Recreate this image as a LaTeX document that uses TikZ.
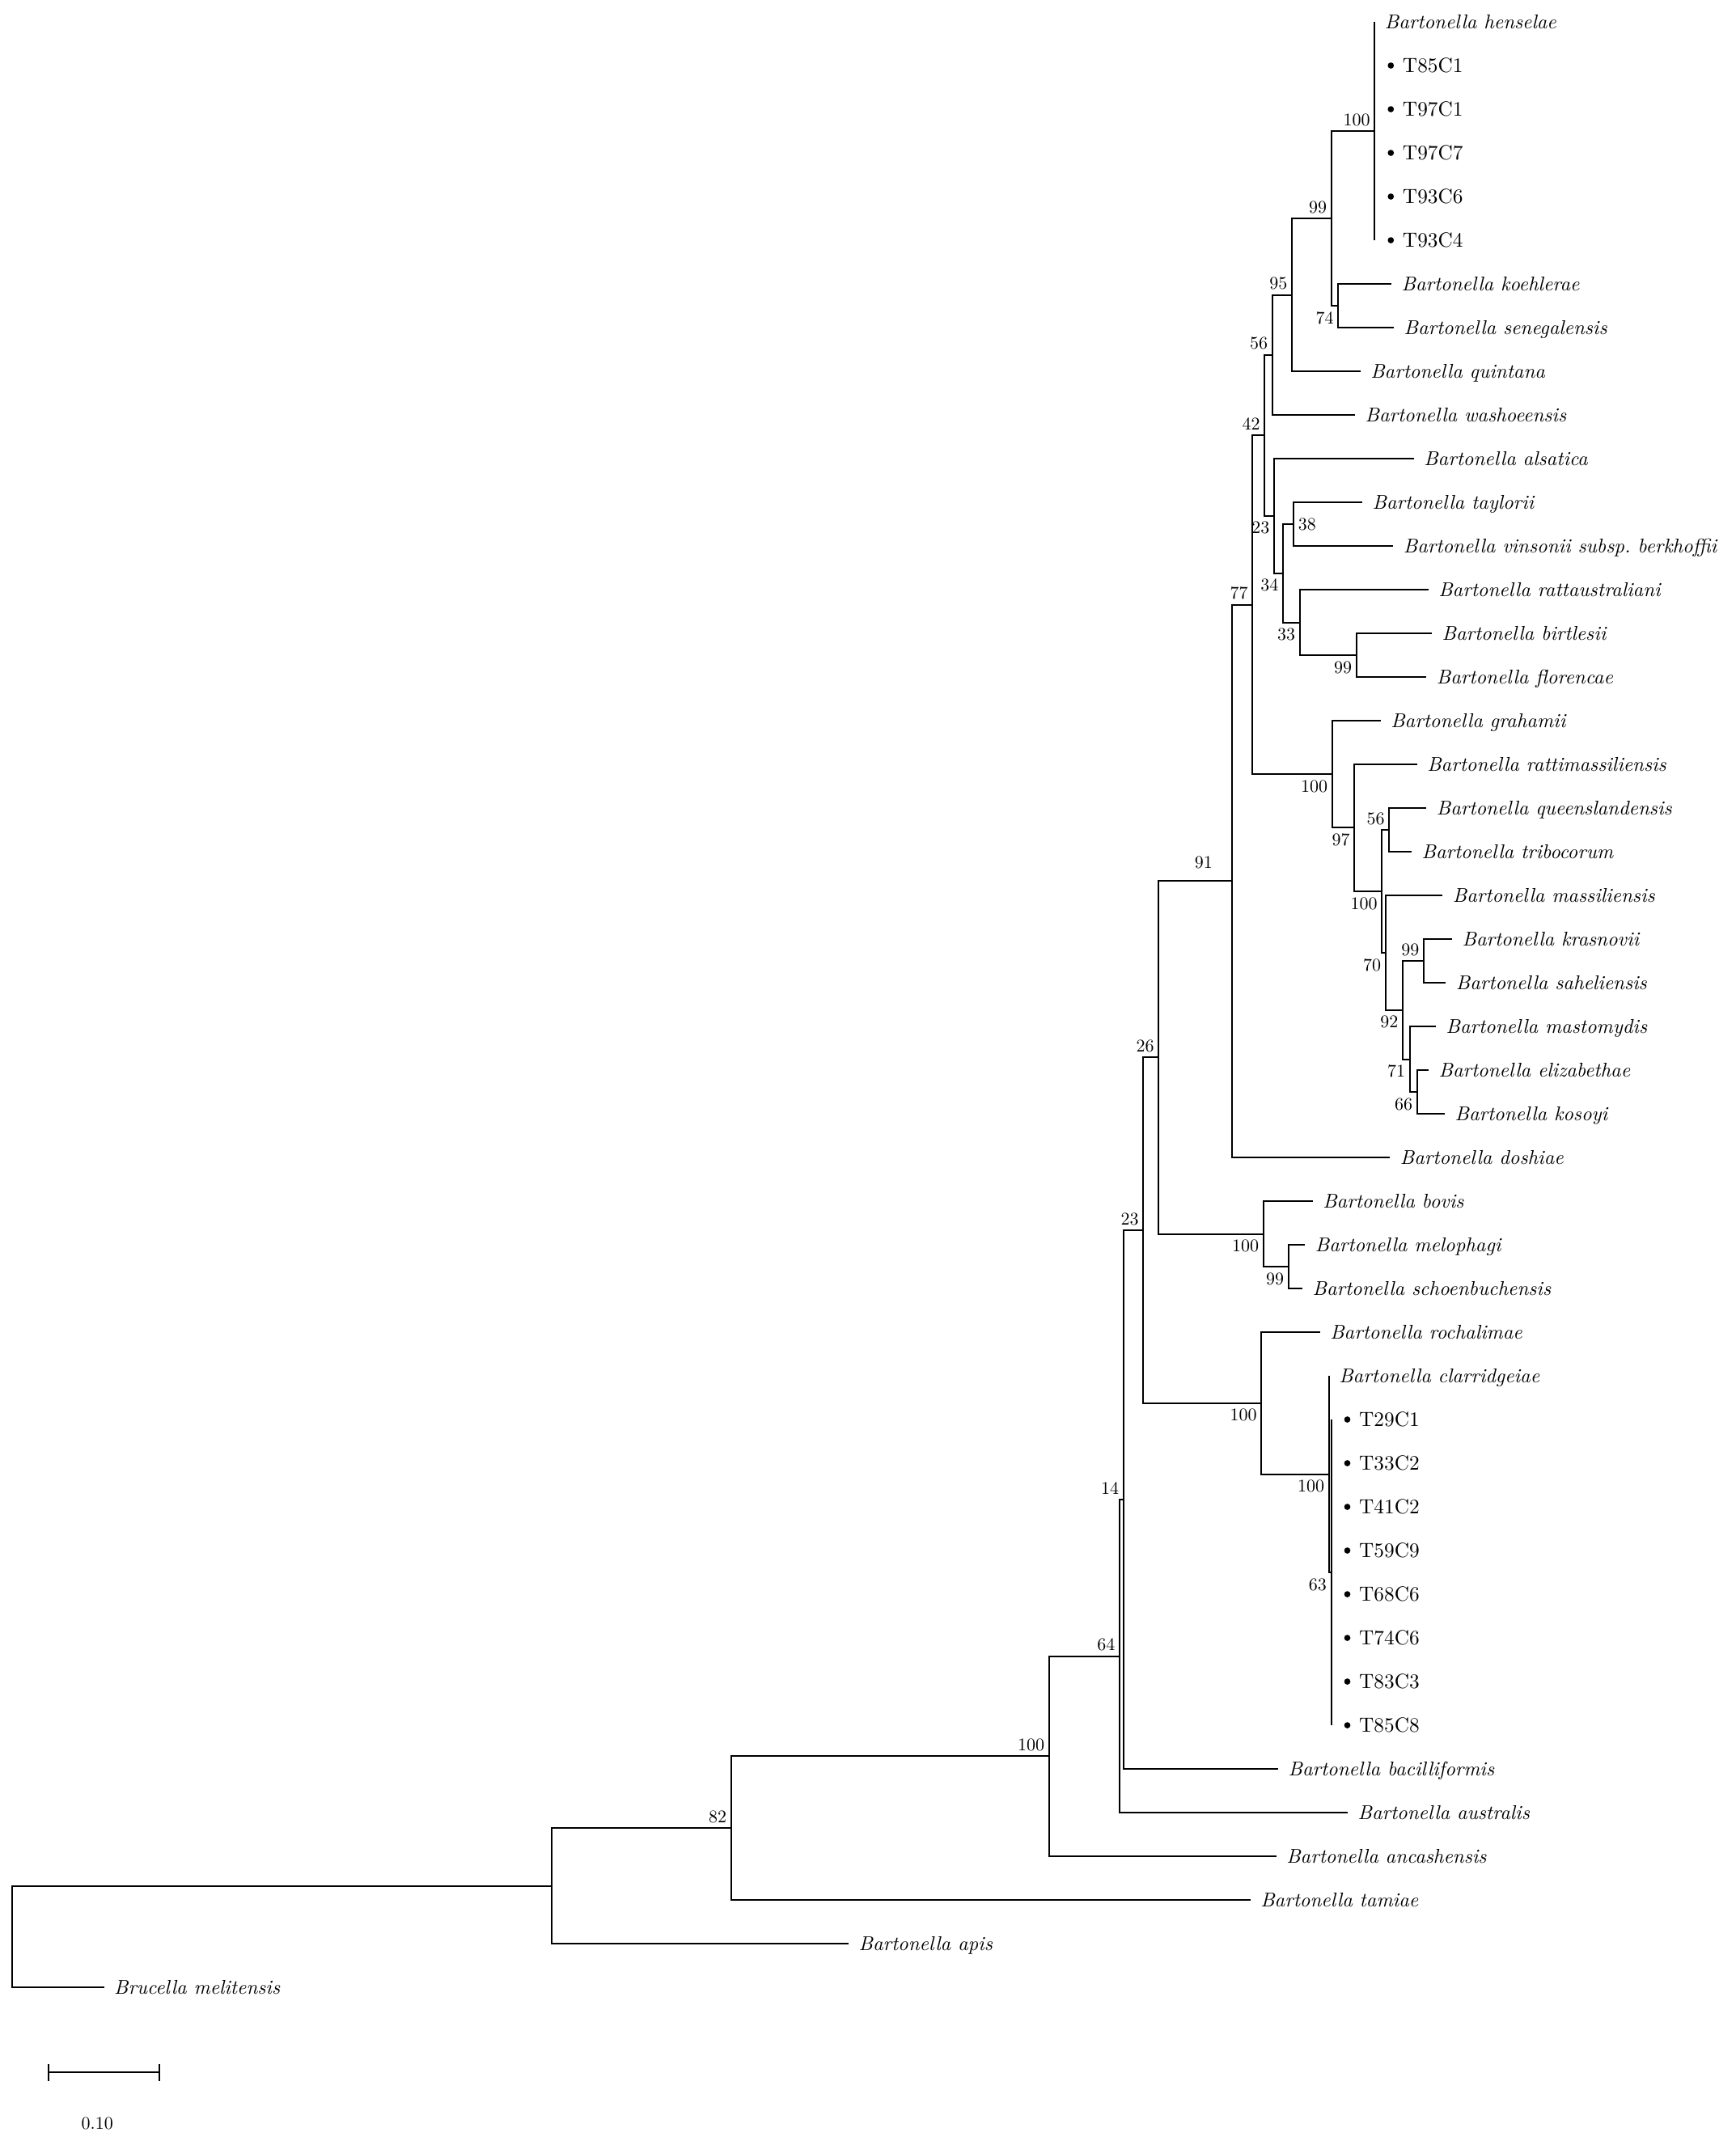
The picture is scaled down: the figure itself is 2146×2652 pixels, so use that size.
\documentclass[tikz,border=0pt]{standalone}
\usepackage{graphicx}
\usetikzlibrary{calc}
\newcommand\rowY[1]{27+54*#1}
\newcommand\lfx[1]{\scalebox{0.74}{\fontsize{10}{12}\selectfont\itshape #1}}
\newcommand\isx[1]{\scalebox{0.76}{\fontsize{10}{12}\selectfont #1}}
\newcommand\bsx[1]{\scalebox{0.66}{\fontsize{10}{12}\selectfont #1}}
\begin{document}
\frenchspacing
\begin{tikzpicture}[x=0.3pt,y=-0.3pt,
  br/.style={line width=0.6pt},
  leaf/.style={anchor=base west,inner sep=0pt},
  iso/.style={anchor=base west,inner sep=0pt},
  bs/.style={inner sep=0pt},
  bsa/.style={bs,anchor=east},
  dotm/.style={fill=black}
]
\useasboundingbox (0,0) rectangle (2146,2652);
% ---------- leaf tips ----------
\coordinate (L0) at (1699.3,{\rowY{0}});
\coordinate (L1) at (1699.3,{\rowY{1}});
\coordinate (L2) at (1699.3,{\rowY{2}});
\coordinate (L3) at (1699.3,{\rowY{3}});
\coordinate (L4) at (1699.3,{\rowY{4}});
\coordinate (L5) at (1699.3,{\rowY{5}});
\coordinate (L6) at (1720,{\rowY{6}});
\coordinate (L7) at (1723,{\rowY{7}});
\coordinate (L8) at (1681.7,{\rowY{8}});
\coordinate (L9) at (1675,{\rowY{9}});
\coordinate (L10) at (1747.7,{\rowY{10}});
\coordinate (L11) at (1684,{\rowY{11}});
\coordinate (L12) at (1722.3,{\rowY{12}});
\coordinate (L13) at (1765.7,{\rowY{13}});
\coordinate (L14) at (1770,{\rowY{14}});
\coordinate (L15) at (1763.3,{\rowY{15}});
\coordinate (L16) at (1706.7,{\rowY{16}});
\coordinate (L17) at (1751.7,{\rowY{17}});
\coordinate (L18) at (1763.3,{\rowY{18}});
\coordinate (L19) at (1745,{\rowY{19}});
\coordinate (L20) at (1783.3,{\rowY{20}});
\coordinate (L21) at (1795,{\rowY{21}});
\coordinate (L22) at (1787.3,{\rowY{22}});
\coordinate (L23) at (1775,{\rowY{23}});
\coordinate (L24) at (1766,{\rowY{24}});
\coordinate (L25) at (1786,{\rowY{25}});
\coordinate (L26) at (1718.3,{\rowY{26}});
\coordinate (L27) at (1622.7,{\rowY{27}});
\coordinate (L28) at (1613.3,{\rowY{28}});
\coordinate (L29) at (1610,{\rowY{29}});
\coordinate (L30) at (1631.7,{\rowY{30}});
\coordinate (L31) at (1642.7,{\rowY{31}});
\coordinate (L32) at (1645.5,{\rowY{32}});
\coordinate (L33) at (1645.5,{\rowY{33}});
\coordinate (L34) at (1645.5,{\rowY{34}});
\coordinate (L35) at (1645.5,{\rowY{35}});
\coordinate (L36) at (1645.5,{\rowY{36}});
\coordinate (L37) at (1645.5,{\rowY{37}});
\coordinate (L38) at (1645.5,{\rowY{38}});
\coordinate (L39) at (1645.5,{\rowY{39}});
\coordinate (L40) at (1580,{\rowY{40}});
\coordinate (L41) at (1666,{\rowY{41}});
\coordinate (L42) at (1577.7,{\rowY{42}});
\coordinate (L43) at (1545.7,{\rowY{43}});
\coordinate (L44) at (1049,{\rowY{44}});
\coordinate (L45) at (128.5,{\rowY{45}});
% ---------- internal nodes ----------
\coordinate (N100h) at (1699.3,{\rowY{2.5}});
\coordinate (N74) at (1654.2,{\rowY{6.5}});
\coordinate (N99) at (1645.7,{\rowY{4.5}});
\coordinate (N95) at (1597,{\rowY{6.25}});
\coordinate (N56) at (1572.7,{\rowY{7.625}});
\coordinate (N38) at (1599.3,{\rowY{11.5}});
\coordinate (N99b) at (1676.7,{\rowY{14.5}});
\coordinate (N33) at (1606.7,{\rowY{13.75}});
\coordinate (N34) at (1586,{\rowY{12.625}});
\coordinate (N23a) at (1575,{\rowY{11.3125}});
\coordinate (N42) at (1563.3,{\rowY{9.46875}});
\coordinate (N56q) at (1717.3,{\rowY{18.5}});
\coordinate (N99k) at (1760,{\rowY{21.5}});
\coordinate (N66) at (1751.7,{\rowY{24.5}});
\coordinate (N71) at (1742.7,{\rowY{23.75}});
\coordinate (N92) at (1734,{\rowY{22.625}});
\coordinate (N70) at (1712.7,{\rowY{21.3125}});
\coordinate (N100q) at (1708.3,{\rowY{19.90625}});
\coordinate (N97) at (1674.3,{\rowY{18.453125}});
\coordinate (N100g) at (1646.7,{\rowY{17.2265625}});
\coordinate (N77) at (1548.3,{\rowY{13.34765625}});
\coordinate (N91) at (1522.5,{\rowY{19.673828}});
\coordinate (N99m) at (1592.7,{\rowY{28.5}});
\coordinate (N100b) at (1561.7,{\rowY{27.75}});
\coordinate (N26) at (1432.3,{\rowY{23.711914}});
\coordinate (N63) at (1645.5,{\rowY{35.5}});
\coordinate (N100c) at (1642.7,{\rowY{33.25}});
\coordinate (N100r) at (1559.3,{\rowY{31.625}});
\coordinate (N23b) at (1413.3,{\rowY{27.668457}});
\coordinate (N14) at (1388.8,{\rowY{33.834229}});
\coordinate (N64) at (1384,{\rowY{37.417114}});
\coordinate (N100a) at (1296.7,{\rowY{39.708557}});
\coordinate (N82) at (903.8,{\rowY{41.354279}});
\coordinate (Nb) at (682.4,{\rowY{42.677139}});
\coordinate (R) at (14.9,{\rowY{43.83857}});
% ---------- branches ----------
\foreach \c in {L0,L1,L2,L3,L4,L5} \draw[br] (N100h) |- (\c);
\draw[br] (N74) |- (L6); \draw[br] (N74) |- (L7);
\draw[br] (N99) |- (N100h); \draw[br] (N99) |- (N74);
\draw[br] (N95) |- (N99); \draw[br] (N95) |- (L8);
\draw[br] (N56) |- (N95); \draw[br] (N56) |- (L9);
\draw[br] (N38) |- (L11); \draw[br] (N38) |- (L12);
\draw[br] (N99b) |- (L14); \draw[br] (N99b) |- (L15);
\draw[br] (N33) |- (L13); \draw[br] (N33) |- (N99b);
\draw[br] (N34) |- (N38); \draw[br] (N34) |- (N33);
\draw[br] (N23a) |- (L10); \draw[br] (N23a) |- (N34);
\draw[br] (N42) |- (N56); \draw[br] (N42) |- (N23a);
\draw[br] (N56q) |- (L18); \draw[br] (N56q) |- (L19);
\draw[br] (N99k) |- (L21); \draw[br] (N99k) |- (L22);
\draw[br] (N66) |- (L24); \draw[br] (N66) |- (L25);
\draw[br] (N71) |- (L23); \draw[br] (N71) |- (N66);
\draw[br] (N92) |- (N99k); \draw[br] (N92) |- (N71);
\draw[br] (N70) |- (L20); \draw[br] (N70) |- (N92);
\draw[br] (N100q) |- (N56q); \draw[br] (N100q) |- (N70);
\draw[br] (N97) |- (L17); \draw[br] (N97) |- (N100q);
\draw[br] (N100g) |- (L16); \draw[br] (N100g) |- (N97);
\draw[br] (N77) |- (N42); \draw[br] (N77) |- (N100g);
\draw[br] (N91) |- (N77); \draw[br] (N91) |- (L26);
\draw[br] (N99m) |- (L28); \draw[br] (N99m) |- (L29);
\draw[br] (N100b) |- (L27); \draw[br] (N100b) |- (N99m);
\draw[br] (N26) |- (N91); \draw[br] (N26) |- (N100b);
\foreach \c in {L32,L33,L34,L35,L36,L37,L38,L39} \draw[br] (N63) |- (\c);
\draw[br] (N100c) |- (L31); \draw[br] (N100c) |- (N63);
\draw[br] (N100r) |- (L30); \draw[br] (N100r) |- (N100c);
\draw[br] (N23b) |- (N26); \draw[br] (N23b) |- (N100r);
\draw[br] (N14) |- (N23b); \draw[br] (N14) |- (L40);
\draw[br] (N64) |- (N14); \draw[br] (N64) |- (L41);
\draw[br] (N100a) |- (N64); \draw[br] (N100a) |- (L42);
\draw[br] (N82) |- (N100a); \draw[br] (N82) |- (L43);
\draw[br] (Nb) |- (N82); \draw[br] (Nb) |- (L44);
\draw[br] (R) |- (Nb); \draw[br] (R) |- (L45);
% ---------- leaf labels ----------
\node[leaf] (t0) at ($(L0)+(12,8)$) {\lfx{Bartonella henselae}};
\foreach \c/\t in {L1/T85C1,L2/T97C1,L3/T97C7,L4/T93C6,L5/T93C4,L32/T29C1,L33/T33C2,L34/T41C2,L35/T59C9,L36/T68C6,L37/T74C6,L38/T83C3,L39/T85C8}{
  \fill[dotm] ($(\c)+(20,0)$) circle[radius=1.15pt];
  \node[iso] (t\c) at ($(\c)+(34,8)$) {\isx{\t}};
}
\node[leaf] (t6) at ($(L6)+(12,8)$) {\lfx{Bartonella koehlerae}};
\node[leaf] (t7) at ($(L7)+(12,8)$) {\lfx{Bartonella senegalensis}};
\node[leaf] (t8) at ($(L8)+(12,8)$) {\lfx{Bartonella quintana}};
\node[leaf] (t9) at ($(L9)+(12,8)$) {\lfx{Bartonella washoeensis}};
\node[leaf] (t10) at ($(L10)+(12,8)$) {\lfx{Bartonella alsatica}};
\node[leaf] (t11) at ($(L11)+(12,8)$) {\lfx{Bartonella taylorii}};
\node[leaf] (t12) at ($(L12)+(12,8)$) {\lfx{Bartonella vinsonii subsp. berkhoffii}};
\node[leaf] (t13) at ($(L13)+(12,8)$) {\lfx{Bartonella rattaustraliani}};
\node[leaf] (t14) at ($(L14)+(12,8)$) {\lfx{Bartonella birtlesii}};
\node[leaf] (t15) at ($(L15)+(12,8)$) {\lfx{Bartonella florencae}};
\node[leaf] (t16) at ($(L16)+(12,8)$) {\lfx{Bartonella grahamii}};
\node[leaf] (t17) at ($(L17)+(12,8)$) {\lfx{Bartonella rattimassiliensis}};
\node[leaf] (t18) at ($(L18)+(12,8)$) {\lfx{Bartonella queenslandensis}};
\node[leaf] (t19) at ($(L19)+(12,8)$) {\lfx{Bartonella tribocorum}};
\node[leaf] (t20) at ($(L20)+(12,8)$) {\lfx{Bartonella massiliensis}};
\node[leaf] (t21) at ($(L21)+(12,8)$) {\lfx{Bartonella krasnovii}};
\node[leaf] (t22) at ($(L22)+(12,8)$) {\lfx{Bartonella saheliensis}};
\node[leaf] (t23) at ($(L23)+(12,8)$) {\lfx{Bartonella mastomydis}};
\node[leaf] (t24) at ($(L24)+(12,8)$) {\lfx{Bartonella elizabethae}};
\node[leaf] (t25) at ($(L25)+(12,8)$) {\lfx{Bartonella kosoyi}};
\node[leaf] (t26) at ($(L26)+(12,8)$) {\lfx{Bartonella doshiae}};
\node[leaf] (t27) at ($(L27)+(12,8)$) {\lfx{Bartonella bovis}};
\node[leaf] (t28) at ($(L28)+(12,8)$) {\lfx{Bartonella melophagi}};
\node[leaf] (t29) at ($(L29)+(12,8)$) {\lfx{Bartonella schoenbuchensis}};
\node[leaf] (t30) at ($(L30)+(12,8)$) {\lfx{Bartonella rochalimae}};
\node[leaf] (t31) at ($(L31)+(12,8)$) {\lfx{Bartonella clarridgeiae}};
\node[leaf] (t40) at ($(L40)+(12,8)$) {\lfx{Bartonella bacilliformis}};
\node[leaf] (t41) at ($(L41)+(12,8)$) {\lfx{Bartonella australis}};
\node[leaf] (t42) at ($(L42)+(12,8)$) {\lfx{Bartonella ancashensis}};
\node[leaf] (t43) at ($(L43)+(12,8)$) {\lfx{Bartonella tamiae}};
\node[leaf] (t44) at ($(L44)+(12,8)$) {\lfx{Bartonella apis}};
\node[leaf] (t45) at ($(L45)+(12,8)$) {\lfx{Brucella melitensis}};
% ---------- bootstrap values ----------
\foreach \n/\v in {N100h/100,N99/99,N95/95,N56/56,N42/42,N77/77,N56q/56,N99k/99,N26/26,N23b/23,N14/14,N64/64,N100a/100,N82/82}
  \node[bsa] (b\n) at ($(\n)+(-5,-14)$) {\bsx{\v}};
\foreach \n/\v in {N74/74,N23a/23,N34/34,N33/33,N99b/99,N100g/100,N97/97,N100q/100,N70/70,N92/92,N71/71,N66/66,N100b/100,N99m/99,N100r/100,N100c/100,N63/63}
  \node[bsa] (b\n) at ($(\n)+(-5,15)$) {\bsx{\v}};
\node[bs,anchor=west] (bN38) at ($(N38)+(5,0)$) {\bsx{38}};
\node[bsa] (bN91) at ($(N91)+(-23,-23)$) {\bsx{91}};
% ---------- scale bar ----------
\coordinate (s1) at (59.7,2562.3);
\coordinate (s2) at (196.5,2562.3);
\draw[br] (s1) -- (s2);
\draw[br] ($(s1)+(0,-10.5)$) -- ($(s1)+(0,10.5)$);
\draw[br] ($(s2)+(0,-10.5)$) -- ($(s2)+(0,10.5)$);
\node[bs,anchor=base] (sl) at (120.2,2632) {\bsx{0.10}};
\end{tikzpicture}
\end{document}
